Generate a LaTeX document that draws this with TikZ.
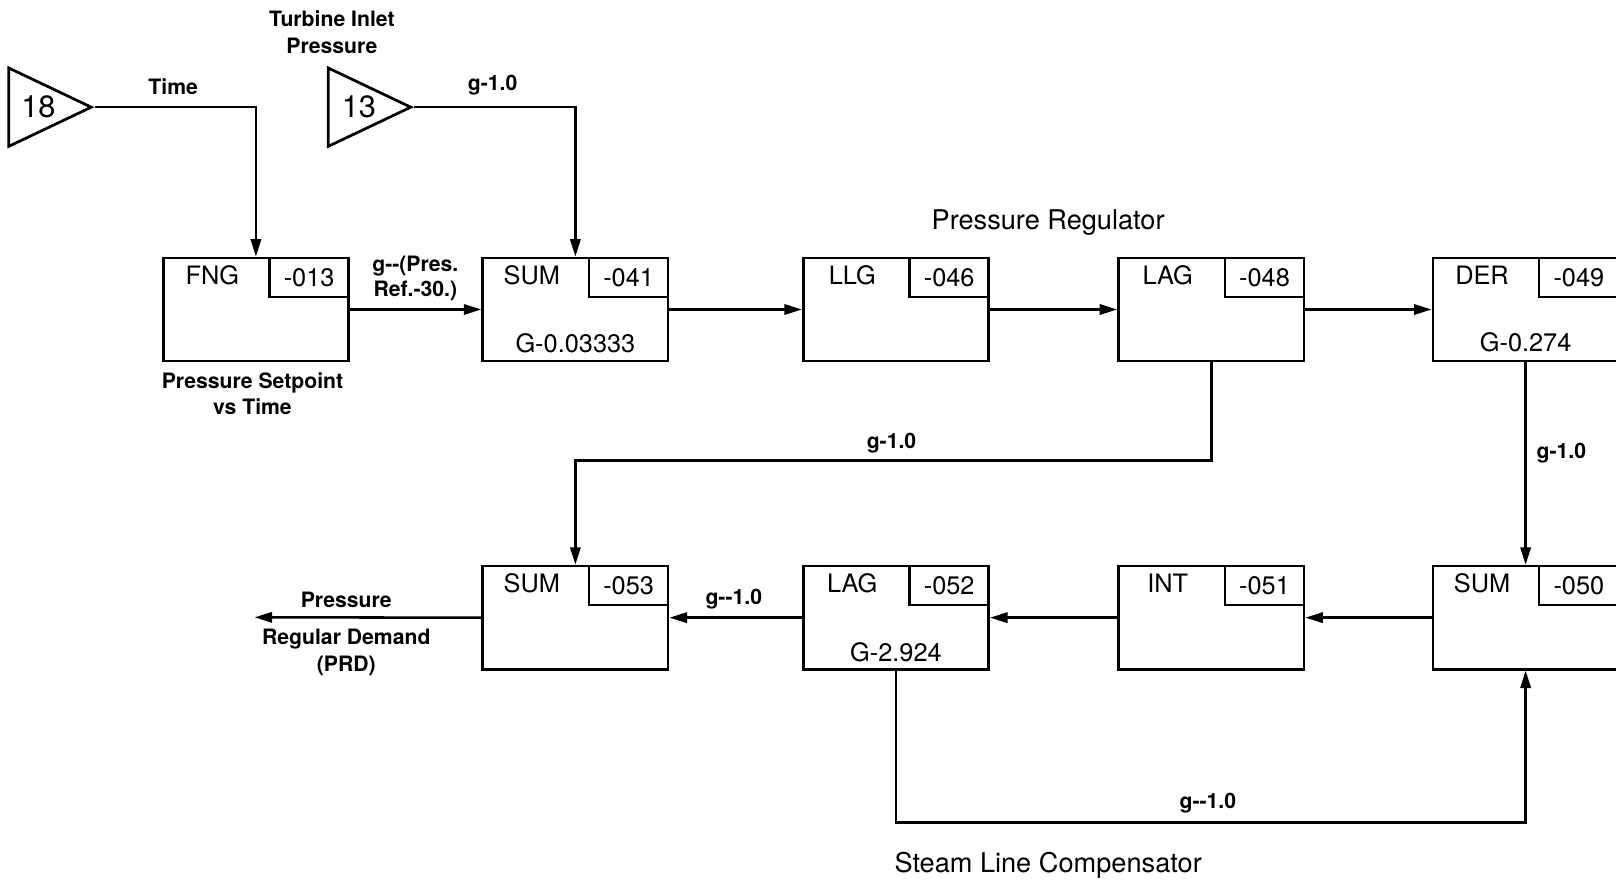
\documentclass[tikz,border=0pt]{standalone}
\usepackage{fontspec}
\setmainfont{TeX Gyre Heros}
\usetikzlibrary{arrows.meta,calc,positioning,shapes.geometric}

\tikzset{
  blk/.style={draw,line width=1.5pt,minimum width=3.6cm,minimum height=2cm,inner sep=0pt,anchor=north west},
  tagbox/.style={draw,line width=1.3pt,minimum width=1.54cm,minimum height=0.76cm,inner sep=0pt,anchor=north east,font=\fontsize{14}{16}\selectfont},
  blktxt/.style={font=\fontsize{14}{16}\selectfont,inner sep=0pt},
  lbl/.style={font=\fontsize{11.7}{14.5}\selectfont\bfseries,inner sep=0pt,align=center},
  ttl/.style={font=\fontsize{15}{17}\selectfont,inner sep=0pt},
  src/.style={draw,line width=1.5pt,isosceles triangle,isosceles triangle stretches,minimum width=1.52cm,minimum height=1.6cm,inner sep=0pt,anchor=apex},
  sig/.style={line width=1.4pt,-{Triangle[length=0.34cm,width=0.2cm]}},
}

\begin{document}
\begin{tikzpicture}[x=0.02cm,y=-0.02cm]
  \useasboundingbox (0,0) rectangle (1568,857);
  % input points
  \node[src] (p18) at (92,104) {};
  \node[font=\fontsize{17}{19}\selectfont,inner sep=0pt] (n18) at ([xshift=0.6cm]p18.lower side) {18};
  \node[src] (p13) at (402,104) {};
  \node[font=\fontsize{17}{19}\selectfont,inner sep=0pt] (n13) at ([xshift=0.62cm]p13.lower side) {13};
  \node[lbl,font=\fontsize{11.7}{15}\selectfont\bfseries] (tip) at (322,31) {Turbine Inlet\\Pressure};
  % blocks
  \foreach \nm/\x/\y/\ty/\id in {fng/157/249/FNG/013, sum41/467/249/SUM/041, llg46/778/249/LLG/046,
      lag48/1084/249/LAG/048, der49/1389/249/DER/049, sum53/467/548/SUM/053,
      lag52/778/548/LAG/052, int51/1084/548/INT/051, sum50/1389/548/SUM/050} {
    \node[blk] (\nm) at (\x,\y) {};
    \node[tagbox] (\nm-id) at (\nm.north east) {-\id};
    \node[blktxt] (\nm-ty) at ([shift={(49,18)}]\nm.north west) {\ty};
  }
  \node[blktxt] (g41) at ([shift={(0,-19)}]sum41.south) {G-0.03333};
  \node[blktxt] (g49) at ([shift={(0,-20)}]der49.south) {G-0.274};
  \node[blktxt] (g52) at ([shift={(0,-18)}]lag52.south) {G-2.924};
  \node[lbl] (fngtxt) at (245,382) {Pressure Setpoint\\vs Time};
  \node[ttl] (preg) at (1017,216) {Pressure Regulator};
  \node[ttl] (slc) at (1017,840) {Steam Line Compensator};
  % forward path
  \draw[sig] (p18.apex) -| (fng.north);
  \node[lbl] (ltime) at (168,84) {Time};
  \draw[sig] (p13.apex) -| (sum41.north);
  \node[lbl] (l13) at (478,83) {g-1.0};
  \draw[sig] (fng.east) -- (sum41.west);
  \node[lbl,font=\fontsize{11.7}{13.5}\selectfont\bfseries] (lref) at (403,270) {g-{}-(Pres.\\Ref.-30.)};
  \draw[sig] (sum41.east) -- (llg46.west);
  \draw[sig] (llg46.east) -- (lag48.west);
  \draw[sig] (lag48.east) -- (der49.west);
  % feedback and lower row
  \coordinate (fbA) at (0,447);
  \draw[sig] (lag48.south) -- (lag48.south |- fbA) -| (sum53.north);
  \node[lbl] (l48) at (865,430) {g-1.0};
  \draw[sig] (der49.south) -- (sum50.north);
  \node[lbl] (l49) at (1515,440) {g-1.0};
  \draw[sig] (sum50.west) -- (int51.east);
  \draw[sig] (int51.west) -- (lag52.east);
  \draw[sig] (lag52.west) -- (sum53.east);
  \node[lbl] (l52) at (712,581) {g-{}-1.0};
  \coordinate (fbB) at (0,798);
  \draw[sig] (lag52.south) -- (lag52.south |- fbB) -| (sum50.south);
  \node[lbl] (lslc) at (1172,779) {g-{}-1.0};
  \coordinate (prd) at (247,599);
  \draw[sig] (sum53.west) -- (prd);
  \node[lbl] (lp) at (336,582) {Pressure};
  \node[lbl] (lprd) at (336,633) {Regular Demand\\(PRD)};
\end{tikzpicture}
\end{document}
